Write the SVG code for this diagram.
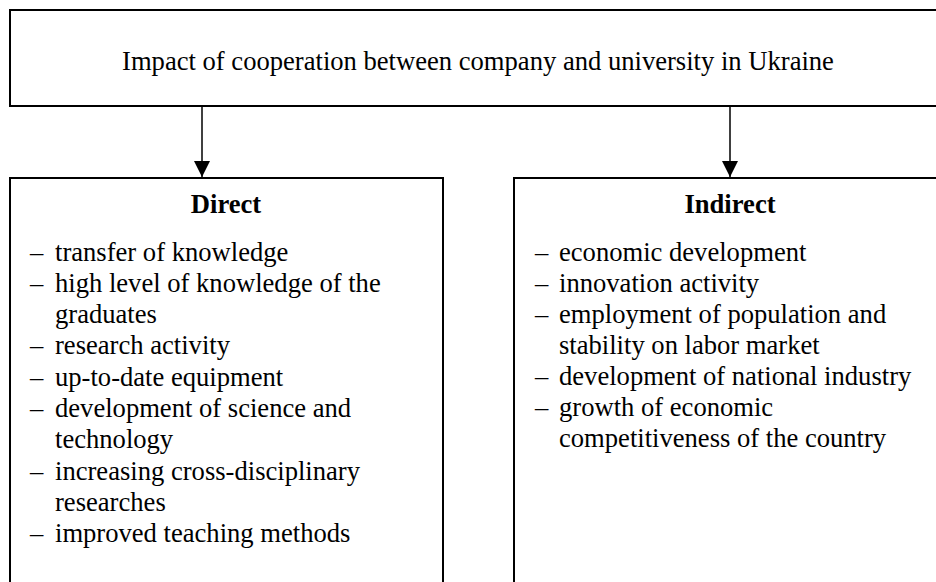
<svg xmlns="http://www.w3.org/2000/svg" width="936" height="582" viewBox="0 0 936 582">
<style>
.box{fill:#fff;stroke:#000;stroke-width:2}
.t{font-family:"Liberation Serif","Times New Roman",serif;font-size:26.6px;fill:#000}
.h{font-weight:bold;text-anchor:middle}
.c{text-anchor:middle}
.conn line{stroke:#000;stroke-width:1.5}
</style>
<defs>
<marker id="ah" markerWidth="16" markerHeight="16" viewBox="0 0 16 16" refX="16" refY="8" orient="auto" markerUnits="userSpaceOnUse">
<path d="M0,0 L16,8 L0,16 Z" fill="#000"/>
</marker>
</defs>
<rect width="936" height="582" fill="#fff"/>
<g id="top">
<rect class="box" x="10" y="10" width="940" height="96"/>
<text class="t c" x="478" y="70">Impact of cooperation between company and university in Ukraine</text>
</g>
<g id="direct">
<rect class="box" x="10" y="178" width="433" height="420"/>
<text class="t h" x="226" y="213">Direct</text>
<text class="t" x="30" y="261">–</text><text class="t" x="55" y="261">transfer of knowledge</text>
<text class="t" x="30" y="292">–</text><text class="t" x="55" y="292">high level of knowledge of the</text>
<text class="t" x="55" y="323">graduates</text>
<text class="t" x="30" y="354">–</text><text class="t" x="55" y="354">research activity</text>
<text class="t" x="30" y="386">–</text><text class="t" x="55" y="386">up-to-date equipment</text>
<text class="t" x="30" y="417">–</text><text class="t" x="55" y="417">development of science and</text>
<text class="t" x="55" y="448">technology</text>
<text class="t" x="30" y="480">–</text><text class="t" x="55" y="480">increasing cross-disciplinary</text>
<text class="t" x="55" y="511">researches</text>
<text class="t" x="30" y="542">–</text><text class="t" x="55" y="542">improved teaching methods</text>
</g>
<g id="indirect">
<rect class="box" x="514" y="178" width="433" height="420"/>
<text class="t h" x="730" y="213">Indirect</text>
<text class="t" x="535" y="261">–</text><text class="t" x="559" y="261">economic development</text>
<text class="t" x="535" y="292">–</text><text class="t" x="559" y="292">innovation activity</text>
<text class="t" x="535" y="323">–</text><text class="t" x="559" y="323">employment of population and</text>
<text class="t" x="559" y="354">stability on labor market</text>
<text class="t" x="535" y="385">–</text><text class="t" x="559" y="385">development of national industry</text>
<text class="t" x="535" y="416">–</text><text class="t" x="559" y="416">growth of economic</text>
<text class="t" x="559" y="447">competitiveness of the country</text>
</g>
<g id="connectors" class="conn">
<line x1="202" y1="106" x2="202" y2="177" marker-end="url(#ah)"/>
<line x1="730" y1="106" x2="730" y2="177" marker-end="url(#ah)"/>
</g>
</svg>
